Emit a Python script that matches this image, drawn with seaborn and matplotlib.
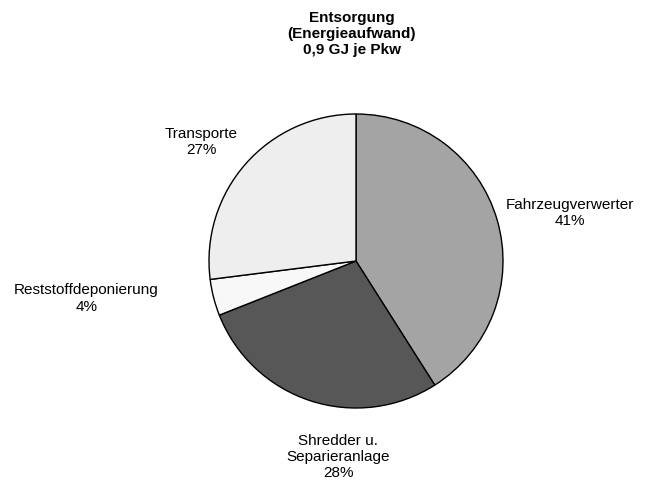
import matplotlib
matplotlib.use("Agg")
import matplotlib.pyplot as plt
import seaborn as sns

# Data
labels = ["Fahrzeugverwerter", "Shredder u.\nSeparieranlage", "Reststoffdeponierung", "Transporte"]
shares = [41, 28, 4, 27]
colors = ["#a4a4a4", "#575757", "#f8f8f8", "#eeeeee"]
# label positions, in pie radius units
label_pos = [(1.452, 0.327), (-0.12, -1.333), (-1.833, -0.255), (-1.054, 0.81)]

sns.set_style("white")
plt.rcParams['font.family'] = ['Liberation Sans', 'DejaVu Sans']

fig = plt.figure(figsize=(6.47, 4.82), dpi=100)
cx, cy, r = 356, 482 - 261, 147
ax = fig.add_axes([(cx - r) / 647, (cy - r) / 482, 2 * r / 647, 2 * r / 482])

ax.pie(shares, colors=colors, startangle=90, counterclock=False,
       wedgeprops=dict(edgecolor="black", linewidth=1.0))
ax.set_xlim(-1, 1)
ax.set_ylim(-1, 1)
ax.axis("off")

for lab, val, (x, y) in zip(labels, shares, label_pos):
    ax.text(x, y, f"{lab}\n{val}%", ha="center", va="center", color="black",
            fontsize=11, linespacing=1.2, clip_on=False)

fig.text(352 / 647, 1 - 34 / 482, "Entsorgung\n(Energieaufwand)\n0,9 GJ je Pkw",
         ha="center", va="center", fontsize=11, fontweight="bold",
         color="black", linespacing=1.15)

fig.savefig("out.png", dpi=100)
